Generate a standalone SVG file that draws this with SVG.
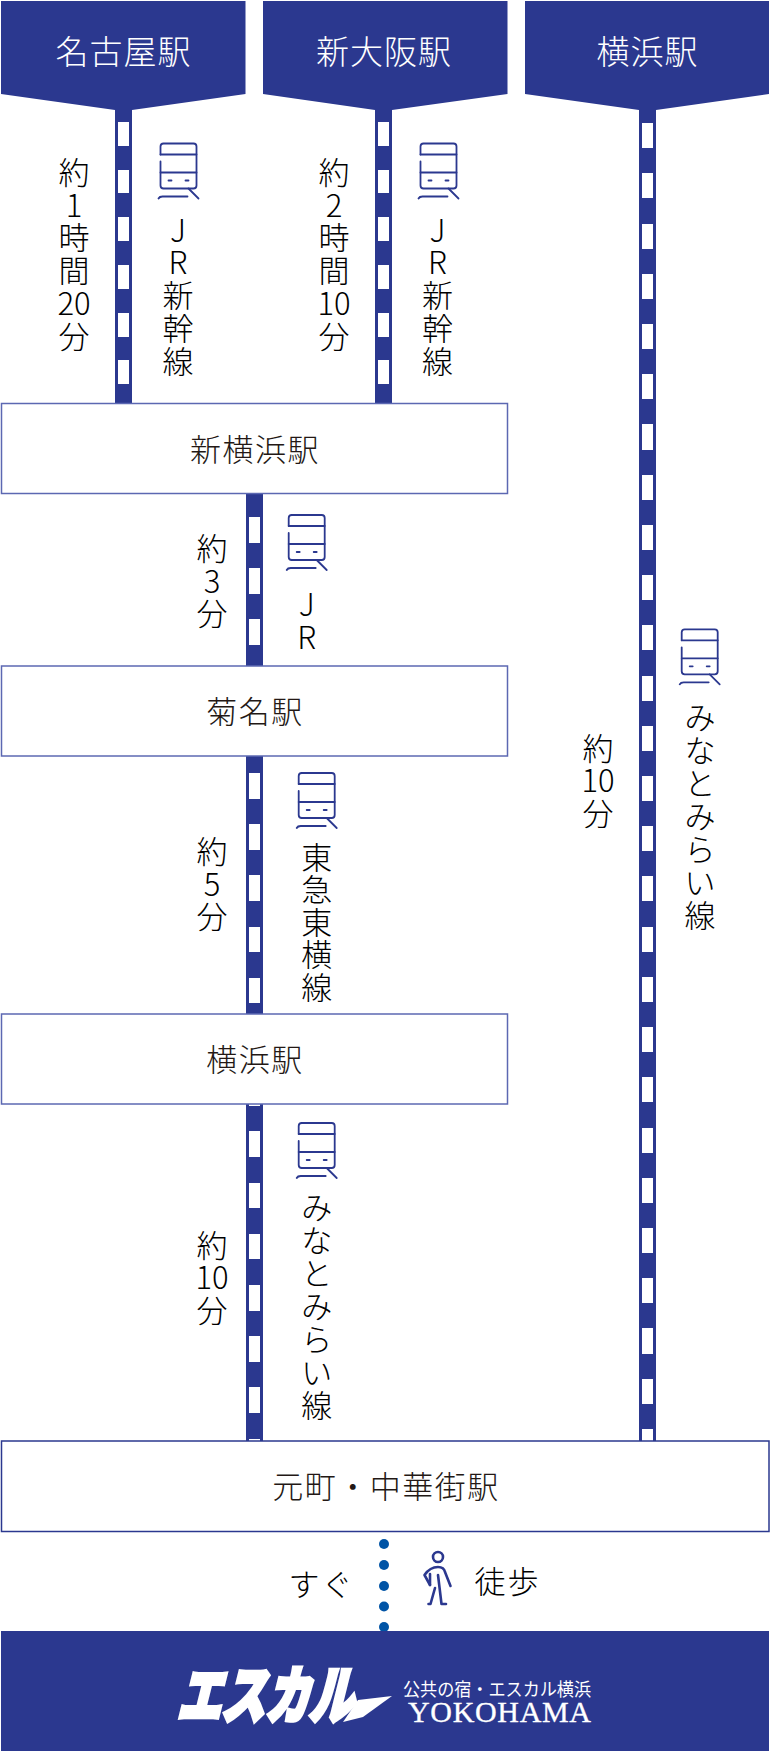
<svg xmlns="http://www.w3.org/2000/svg" xmlns:xlink="http://www.w3.org/1999/xlink" width="770" height="1762" viewBox="0 0 770 1762">
<style>
text{font-family:"Noto Sans CJK JP","Noto Sans",sans-serif;font-weight:300;text-anchor:middle;font-size:31px;fill:#000}
.hd{fill:#2b388f}
.hl{fill:#fff;font-size:33px;letter-spacing:1px}
.box{fill:#fff;stroke:#5c68b2;stroke-width:1.5}
.st{fill:#231815;letter-spacing:1.5px}
.line{fill:#2b388f}
.gap{fill:#fff}
.ic{fill:none;stroke:#2b388f;stroke-width:1.8;stroke-linecap:round;stroke-linejoin:round}
.dot{fill:#0054a6}
</style>
<defs>
<g id="train" class="ic">
<path d="M0 11V3Q0 0 3 0H33Q36 0 36 3V42Q36 45 33 45H3Q0 45 0 42V18"/>
<path d="M0 11H36M0 29H36"/>
<path d="M8 37H11M25 37H28"/>
<path d="M-2 55Q-1 53 2 53H27M28 45L38 55"/>
</g>
</defs>
<rect width="770" height="1762" fill="#fff"/>
<g id="connectors">
<rect class="line" x="115" y="100" width="17" height="304"/>
<rect class="line" x="375" y="100" width="17" height="304"/>
<rect class="line" x="639" y="100" width="17" height="1342"/>
<rect class="line" x="246" y="493" width="17" height="173"/>
<rect class="line" x="246" y="756" width="17" height="258"/>
<rect class="line" x="246" y="1104" width="17" height="337"/>
<g class="gap">
<rect x="118" y="122" width="11" height="24"/><rect x="118" y="170" width="11" height="23"/><rect x="118" y="217" width="11" height="24"/><rect x="118" y="265" width="11" height="24"/><rect x="118" y="313" width="11" height="24"/><rect x="118" y="360" width="11" height="24"/>
<rect x="378" y="122" width="11" height="24"/><rect x="378" y="170" width="11" height="23"/><rect x="378" y="217" width="11" height="24"/><rect x="378" y="265" width="11" height="24"/><rect x="378" y="313" width="11" height="24"/><rect x="378" y="360" width="11" height="24"/>
<rect x="249" y="517" width="11" height="26"/><rect x="249" y="568" width="11" height="26"/><rect x="249" y="619" width="11" height="26"/>
<rect x="249" y="773" width="11" height="26"/><rect x="249" y="824" width="11" height="26"/><rect x="249" y="875" width="11" height="26"/><rect x="249" y="927" width="11" height="25"/><rect x="249" y="978" width="11" height="25"/>
<rect x="249" y="1104" width="11" height="2"/><rect x="249" y="1131" width="11" height="26"/><rect x="249" y="1183" width="11" height="25"/><rect x="249" y="1234" width="11" height="25"/><rect x="249" y="1285" width="11" height="26"/><rect x="249" y="1336" width="11" height="26"/><rect x="249" y="1387" width="11" height="26"/><rect x="249" y="1439" width="11" height="2"/>
<rect x="642" y="123" width="11" height="25"/><rect x="642" y="173" width="11" height="25"/><rect x="642" y="224" width="11" height="25"/><rect x="642" y="274" width="11" height="25"/><rect x="642" y="324" width="11" height="25"/><rect x="642" y="374" width="11" height="25"/><rect x="642" y="424" width="11" height="26"/><rect x="642" y="475" width="11" height="25"/><rect x="642" y="525" width="11" height="25"/><rect x="642" y="575" width="11" height="25"/><rect x="642" y="625" width="11" height="25"/><rect x="642" y="676" width="11" height="25"/><rect x="642" y="726" width="11" height="25"/><rect x="642" y="776" width="11" height="25"/><rect x="642" y="826" width="11" height="25"/><rect x="642" y="876" width="11" height="25"/><rect x="642" y="927" width="11" height="25"/><rect x="642" y="977" width="11" height="25"/><rect x="642" y="1027" width="11" height="25"/><rect x="642" y="1077" width="11" height="25"/><rect x="642" y="1128" width="11" height="25"/><rect x="642" y="1178" width="11" height="25"/><rect x="642" y="1228" width="11" height="25"/><rect x="642" y="1278" width="11" height="25"/><rect x="642" y="1328" width="11" height="26"/><rect x="642" y="1379" width="11" height="25"/><rect x="642" y="1429" width="11" height="12"/>
</g>
<g class="dot">
<circle cx="384" cy="1544" r="5"/><circle cx="384" cy="1565" r="5"/><circle cx="384" cy="1586" r="5"/><circle cx="384" cy="1606.5" r="5"/><circle cx="384" cy="1627" r="5"/>
</g>
</g>
<g id="start-nagoya">
<polygon class="hd" points="1,1 245.5,1 245.5,94 132,110 115,110 1,94"/>
<text class="hl" x="123.5" y="64">名古屋駅</text>
</g>
<g id="start-shinosaka">
<polygon class="hd" points="263,1 507.5,1 507.5,94 392,110 375,110 263,94"/>
<text class="hl" x="384" y="64">新大阪駅</text>
</g>
<g id="start-yokohama">
<polygon class="hd" points="525,1 769,1 769,94 656,110 639,110 525,94"/>
<text class="hl" x="647.5" y="64">横浜駅</text>
</g>
<g id="station-shinyokohama">
<rect class="box" x="1.5" y="403.5" width="506" height="90"/>
<text class="st" x="255" y="460.5">新横浜駅</text>
</g>
<g id="station-kikuna">
<rect class="box" x="1.5" y="666" width="506" height="90"/>
<text class="st" x="255" y="723">菊名駅</text>
</g>
<g id="station-yokohama">
<rect class="box" x="1.5" y="1014" width="506" height="90"/>
<text class="st" x="255" y="1071">横浜駅</text>
</g>
<g id="station-motomachi">
<rect class="box" x="1.5" y="1441" width="767.5" height="90.5" style="stroke:#2b388f"/>
<text class="st" x="386" y="1497.5">元町・中華街駅</text>
</g>
<g id="leg-nagoya">
<text x="74" y="184">約<tspan x="74" dy="32.7">1</tspan><tspan x="74" dy="32.7">時</tspan><tspan x="74" dy="32.7">間</tspan><tspan x="74" dy="32.7">20</tspan><tspan x="74" dy="32.7">分</tspan></text>
<use xlink:href="#train" href="#train" x="160.5" y="143.5"/>
<text x="178" y="241.7">J<tspan x="178" dy="32.7">R</tspan><tspan x="178" dy="32.7">新</tspan><tspan x="178" dy="32.7">幹</tspan><tspan x="178" dy="32.7">線</tspan></text>
</g>
<g id="leg-shinosaka">
<text x="334" y="184">約<tspan x="334" dy="32.7">2</tspan><tspan x="334" dy="32.7">時</tspan><tspan x="334" dy="32.7">間</tspan><tspan x="334" dy="32.7">10</tspan><tspan x="334" dy="32.7">分</tspan></text>
<use xlink:href="#train" href="#train" x="420.5" y="143.5"/>
<text x="437.5" y="241.7">J<tspan x="437.5" dy="32.7">R</tspan><tspan x="437.5" dy="32.7">新</tspan><tspan x="437.5" dy="32.7">幹</tspan><tspan x="437.5" dy="32.7">線</tspan></text>
</g>
<g id="leg-jr">
<text x="212" y="560">約<tspan x="212" dy="32.7">3</tspan><tspan x="212" dy="32.7">分</tspan></text>
<use xlink:href="#train" href="#train" x="288.7" y="515"/>
<text x="306.7" y="616">J<tspan x="306.7" dy="32.7">R</tspan></text>
</g>
<g id="leg-toyoko">
<text x="212" y="863">約<tspan x="212" dy="32.7">5</tspan><tspan x="212" dy="32.7">分</tspan></text>
<use xlink:href="#train" href="#train" x="298.7" y="773"/>
<text x="316.7" y="868.5">東<tspan x="316.7" dy="32.5">急</tspan><tspan x="316.7" dy="32.5">東</tspan><tspan x="316.7" dy="32.5">横</tspan><tspan x="316.7" dy="32.5">線</tspan></text>
</g>
<g id="leg-minatomirai">
<text x="212" y="1256.5">約<tspan x="212" dy="32.7">10</tspan><tspan x="212" dy="32.7">分</tspan></text>
<use xlink:href="#train" href="#train" x="298.7" y="1123"/>
<text x="316.7" y="1218.5">み<tspan x="316.7" dy="33">な</tspan><tspan x="316.7" dy="33">と</tspan><tspan x="316.7" dy="33">み</tspan><tspan x="316.7" dy="33">ら</tspan><tspan x="316.7" dy="33">い</tspan><tspan x="316.7" dy="33">線</tspan></text>
</g>
<g id="leg-direct">
<text x="598" y="759.5">約<tspan x="598" dy="32.7">10</tspan><tspan x="598" dy="32.7">分</tspan></text>
<use xlink:href="#train" href="#train" x="681.7" y="629.3"/>
<text x="700" y="728.5">み<tspan x="700" dy="33">な</tspan><tspan x="700" dy="33">と</tspan><tspan x="700" dy="33">み</tspan><tspan x="700" dy="33">ら</tspan><tspan x="700" dy="33">い</tspan><tspan x="700" dy="33">線</tspan></text>
</g>
<g id="leg-walk">
<text x="321.5" y="1596" letter-spacing="2">すぐ</text>
<g fill="none" stroke="#2b388f" stroke-width="2.6" stroke-linecap="round" stroke-linejoin="round">
<circle cx="438" cy="1557" r="5"/>
<path d="M430 1585L424.500 1575Q430 1567 438 1567Q444 1567 445 1572L450.500 1586"/>
<path d="M430 1574V1585M438 1575L441.500 1604H446M435 1588L430.500 1604H428.500"/>
</g>
<text x="507.500" y="1593" letter-spacing="2">徒歩</text>
</g>
<g id="destination">
<rect x="1" y="1631" width="768" height="120" class="hd"/>
<text x="265" y="1718" transform="skewX(-14) translate(428 0)" style="font-size:62px;font-weight:900;fill:#fff;stroke:#fff;stroke-width:4.500" textLength="176" lengthAdjust="spacingAndGlyphs">エスカル</text>
<polygon points="358,1700 392,1696 363,1717 343,1722" fill="#fff"/>
<text x="497" y="1696" style="font-size:18px;font-weight:400;fill:#fff" textLength="188" lengthAdjust="spacingAndGlyphs">公共の宿・エスカル横浜</text>
<text x="499.500" y="1721.500" style="font-family:'Liberation Serif',serif;font-size:30px;font-weight:400;fill:#fff;stroke:#fff;stroke-width:.3" textLength="183" lengthAdjust="spacing">YOKOHAMA</text>
</g>
</svg>
